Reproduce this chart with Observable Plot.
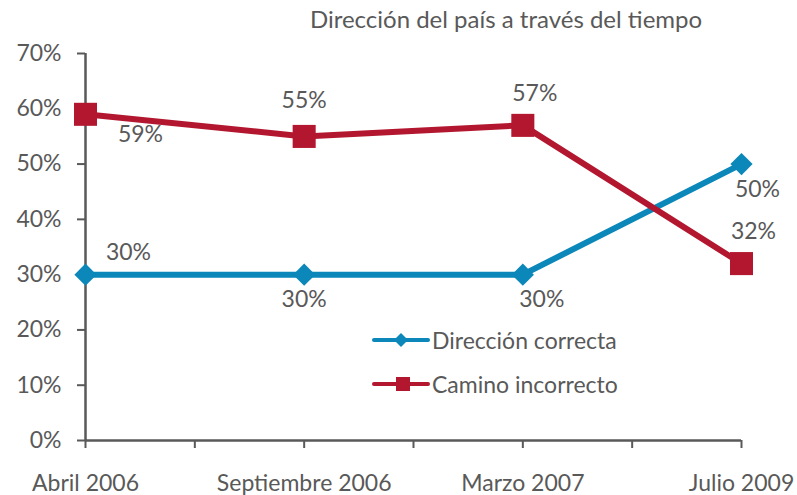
<!DOCTYPE html>
<html>
<head>
<meta charset="utf-8">
<script src="https://cdn.jsdelivr.net/npm/d3@7"></script>
<script src="https://cdn.jsdelivr.net/npm/@observablehq/plot@0.6"></script>
<style>
  body { margin: 0; background: #fff; }
  #wrap { position: relative; width: 797px; height: 495px; font-family: Lato, "Noto Sans", sans-serif; color: #595959; }
  #title { position: absolute; left: 215px; width: 582px; top: 4px; text-align: center; font-size: 24px; }
  #legend { position: absolute; left: 372px; top: 318px; font-size: 23px; }
  .item { display: flex; align-items: center; height: 44px; }
  .item svg { margin-right: 2px; }
</style>
</head>
<body>
<div id="wrap">
  <div id="chart"></div>
  <div id="title">Dirección del país a través del tiempo</div>
  <div id="legend"></div>
</div>
<script>
const categories = ["Abril 2006", "Septiembre 2006", "Marzo 2007", "Julio 2009"];
const direccionCorrecta = [0.30, 0.30, 0.30, 0.50];
const caminoIncorrecto = [0.59, 0.55, 0.57, 0.32];
const yTicks = [0, 0.1, 0.2, 0.3, 0.4, 0.5, 0.6, 0.7];
const seriesNames = ["Dirección correcta", "Camino incorrecto"];

const colors = { "Dirección correcta": "#0b87b9", "Camino incorrecto": "#b3172f" };
const gray = "#595959";
const FS = 23;

// label placement per series point (style config)
const placements = {
  "Dirección correcta": ["aboveRightFar", "below", "belowRight", "belowRight2"],
  "Camino incorrecto": ["belowRightFar", "above", "aboveRight", "aboveRight"]
};
const offsets = {
  aboveRight: [12, -32], above: [0, -36], below: [0, 25], belowRight: [19, 25],
  belowRight2: [16, 26], belowRightFar: [55, 20], aboveRightFar: [43, -22]
};

const rows = [];
categories.forEach((c, i) => {
  rows.push({ i, cat: c, series: seriesNames[0], value: direccionCorrecta[i], place: placements[seriesNames[0]][i] });
  rows.push({ i, cat: c, series: seriesNames[1], value: caminoIncorrecto[i], place: placements[seriesNames[1]][i] });
});
const blue = rows.filter(d => d.series === seriesNames[0]);
const red = rows.filter(d => d.series === seriesNames[1]);

const labelMarks = rows.map(d => Plot.text([d], {
  x: "i", y: "value", text: r => d3.format(".0%")(r.value),
  dx: offsets[d.place][0], dy: offsets[d.place][1], fontSize: FS, fill: gray
}));

const xTicks = d3.range(0, categories.length - 0.5 + 0.01, 0.5);

const chart = Plot.plot({
  width: 797, height: 495,
  marginLeft: 85, marginRight: 56, marginTop: 53, marginBottom: 55,
  style: { fontFamily: "Lato, 'Noto Sans', sans-serif", color: gray, background: "white", overflow: "visible" },
  x: { type: "linear", domain: [0, categories.length - 1], label: null },
  y: { domain: [0, 0.7], label: null },
  marks: [
    Plot.axisY({ ticks: yTicks, tickFormat: d3.format(".0%"), tickSize: 8, tickPadding: 16, fontSize: FS, stroke: gray, strokeWidth: 2, fill: gray, label: null }),
    Plot.axisX({ ticks: xTicks, tickFormat: t => Number.isInteger(t) ? categories[t] : "", tickSize: 8, tickPadding: 26, fontSize: FS, stroke: gray, strokeWidth: 2, fill: gray, label: null }),
    Plot.ruleY([0], { stroke: gray, strokeWidth: 2.5 }),
    Plot.ruleX([0], { y1: 0, y2: 0.7, stroke: gray, strokeWidth: 2.5 }),
    Plot.line(blue, { x: "i", y: "value", stroke: colors[seriesNames[0]], strokeWidth: 6 }),
    Plot.line(red, { x: "i", y: "value", stroke: colors[seriesNames[1]], strokeWidth: 6 }),
    Plot.dot(blue, { x: "i", y: "value", symbol: "diamond2", r: 10, fill: colors[seriesNames[0]], stroke: "none" }),
    Plot.dot(red, { x: "i", y: "value", symbol: "square", r: 13, fill: colors[seriesNames[1]], stroke: "none" }),
    ...labelMarks
  ]
});
document.getElementById("chart").appendChild(chart);

// legend
const legend = d3.select("#legend");
seriesNames.forEach((name, k) => {
  const item = legend.append("div").attr("class", "item");
  const svg = item.append("svg").attr("width", 58).attr("height", 20);
  svg.append("line").attr("x1", 2).attr("x2", 56).attr("y1", 10).attr("y2", 10)
    .attr("stroke", colors[name]).attr("stroke-width", 4).attr("stroke-linecap", "round");
  if (k === 0) {
    svg.append("path").attr("d", "M29,3 L36,10 L29,17 L22,10 Z").attr("fill", colors[name]);
  } else {
    svg.append("rect").attr("x", 24).attr("y", 3).attr("width", 14).attr("height", 14).attr("fill", colors[name]);
  }
  item.append("span").text(name);
});
</script>
</body>
</html>
